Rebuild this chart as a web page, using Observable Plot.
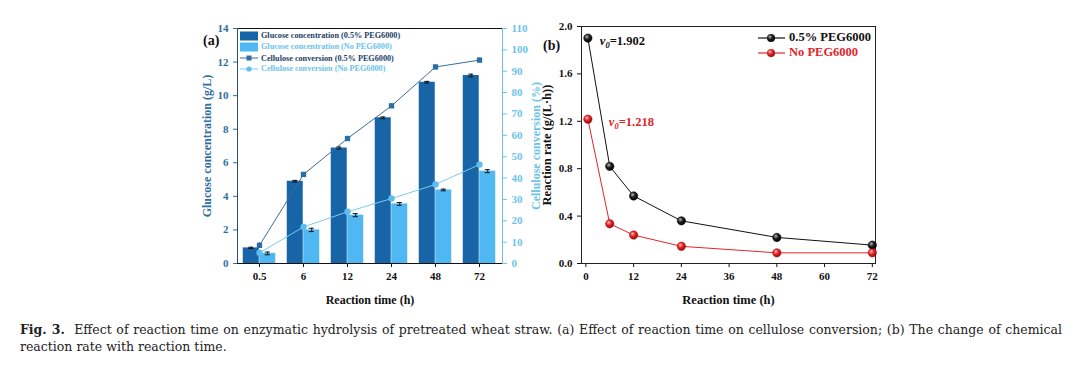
<!DOCTYPE html>
<html><head><meta charset="utf-8">
<script src="https://cdn.jsdelivr.net/npm/d3@7"></script>
<script src="https://cdn.jsdelivr.net/npm/@observablehq/plot@0.6"></script>
<style>
html,body{margin:0;padding:0;background:#fff;}
body{width:1080px;height:376px;overflow:hidden;position:relative;font-family:"Liberation Serif",serif;}
#wrap{position:absolute;left:0;top:0;width:1080px;height:376px;}
.leg{position:absolute;font-family:"Liberation Serif",serif;font-weight:bold;white-space:nowrap;display:flex;align-items:center;}
.leg svg{margin-right:2px;}
.cap{position:absolute;left:20px;width:1042px;font-family:"DejaVu Serif",serif;font-size:12.5px;color:#222;line-height:17px;white-space:nowrap;}
svg text{font-family:"Liberation Serif","Times New Roman",serif;}
</style></head><body>
<svg width="0" height="0" style="position:absolute">
<defs>
<radialGradient id="ballK" cx="38%" cy="35%" r="65%"><stop offset="0" stop-color="#bbb"/><stop offset="0.45" stop-color="#222"/><stop offset="1" stop-color="#000"/></radialGradient>
<radialGradient id="ballR" cx="38%" cy="35%" r="65%"><stop offset="0" stop-color="#ffc4c4"/><stop offset="0.45" stop-color="#e8282c"/><stop offset="1" stop-color="#9a0a0a"/></radialGradient>
</defs></svg>
<div id="wrap"></div>
<script>
// ---------- data ----------
const times = ["0.5", "6", "12", "24", "48", "72"];
const glucosePEG = [0.93, 4.9, 6.88, 8.68, 10.8, 11.2];
const glucosePEGErr = [0.04, 0.05, 0.06, 0.05, 0.05, 0.08];
const glucoseNo = [0.6, 2.0, 2.88, 3.55, 4.38, 5.5];
const glucoseNoErr = [0.08, 0.1, 0.09, 0.08, 0.05, 0.09];
const convPEG = [8.5, 41.7, 58.5, 73.8, 92.0, 95.2];
const convPEGErr = [1.2, 0.8, 1.0, 0.9, 1.0, 1.0];
const convNo = [5.0, 17.1, 24.2, 30.4, 37.0, 46.3];
const rateHours = [0.5, 6, 12, 24, 48, 72];
const ratePEG = [1.902, 0.82, 0.57, 0.36, 0.22, 0.155];
const rateNo = [1.218, 0.335, 0.24, 0.145, 0.09, 0.09];
const leftTicks = [0, 2, 4, 6, 8, 10, 12, 14];
const rightTicks = [0, 10, 20, 30, 40, 50, 60, 70, 80, 90, 100, 110];
const rateYTicks = [0, 0.4, 0.8, 1.2, 1.6, 2.0];
const rateXTicks = [0, 12, 24, 36, 48, 60, 72];

// ---------- styles ----------
const DARK = "#1765a6", LIGHT = "#4fb7f1";
const DARKLINE = "#3d6f97", LIGHTLINE = "#7ccaf0";
const LEFTTXT = "#2f6e9f", RIGHTTXT = "#6dc3ea";
const RED = "#e0262b";
const FAM = "'Liberation Serif', 'Times New Roman', serif";
const font = {fontFamily: FAM, fontWeight: "bold", fontSize: "11px", background: "transparent", overflow: "visible"};
const W = 360, H = 295;
const BW = 16.5;

const wrap = document.getElementById("wrap");
function place(el, left, top) { el.style.position = "absolute"; el.style.left = left + "px"; el.style.top = top + "px"; wrap.appendChild(el); }
function bigLabels(svg, size) {
  svg.querySelectorAll('g[aria-label$="axis label"]').forEach(g => { g.style.fontSize = size + "px"; g.querySelectorAll("text").forEach(t => t.style.fontSize = size + "px"); });
}

// ---------- panel (a) ----------
const gPEG = times.map((t, i) => ({t, v: glucosePEG[i], e: glucosePEGErr[i]}));
const gNo = times.map((t, i) => ({t, v: glucoseNo[i], e: glucoseNoErr[i]}));
const cPEG = times.map((t, i) => ({t, c: convPEG[i], e: convPEGErr[i]}));
const cNo = times.map((t, i) => ({t, c: convNo[i]}));
const mA = {marginLeft: 47, marginRight: 48, marginTop: 13, marginBottom: 47};
const xA = {type: "band", domain: times, paddingInner: 0.627, paddingOuter: 0.3135};

function errBars(data, dx) {
  return [
    Plot.ruleX(data, {x: "t", y1: d => d.v - d.e, y2: d => d.v + d.e, dx, stroke: "#111"}),
    Plot.tickY(data, {x: "t", y: d => d.v + d.e, dx, insetLeft: 5.5, insetRight: 5.5, stroke: "#111"}),
    Plot.tickY(data, {x: "t", y: d => d.v - d.e, dx, insetLeft: 5.5, insetRight: 5.5, stroke: "#111"})
  ];
}

const a1 = Plot.plot({
  width: W, height: H, ...mA, style: font,
  x: {...xA},
  y: {domain: [0, 14]},
  marks: [
    Plot.barY(gPEG, {x: "t", y: "v", fill: DARK, dx: -BW / 2}),
    Plot.barY(gNo, {x: "t", y: "v", fill: LIGHT, dx: BW / 2}),
    ...errBars(gPEG, -BW / 2),
    ...errBars(gNo, BW / 2),
    Plot.axisY({ticks: leftTicks, anchor: "left", color: LEFTTXT, tickSize: 4, label: "Glucose concentration (g/L)", labelAnchor: "center", labelArrow: "none", labelOffset: 35, fontFamily: FAM}),
    Plot.axisX({tickSize: 4, color: "#111", label: "Reaction time (h)", labelAnchor: "center", labelArrow: "none", labelOffset: 40, fontFamily: FAM}),
    Plot.frame({anchor: "top", stroke: "#111"}),
    Plot.frame({anchor: "left", stroke: "#2a4f70"}),
    Plot.frame({anchor: "bottom", stroke: "#111"})
  ]
});
bigLabels(a1, 12);
place(a1, 190, 15);

const a2 = Plot.plot({
  width: W, height: H, ...mA, style: font,
  x: {...xA, axis: null},
  y: {domain: [0, 110]},
  marks: [
    Plot.lineY(cPEG, {x: "t", y: "c", stroke: DARKLINE, strokeWidth: 1}),
    Plot.ruleX(cPEG, {x: "t", y1: d => d.c - d.e, y2: d => d.c + d.e, stroke: "#1d4f7a"}),
    Plot.dot(cPEG, {x: "t", y: "c", symbol: "square", fill: "#2c6ea3", r: 3}),
    Plot.lineY(cNo, {x: "t", y: "c", stroke: LIGHTLINE, strokeWidth: 1}),
    Plot.dot(cNo, {x: "t", y: "c", symbol: "circle", fill: "#5dbdee", r: 3.2}),
    Plot.axisY({ticks: rightTicks, anchor: "right", color: RIGHTTXT, tickSize: 4, label: "Cellulose conversion (%)", labelAnchor: "center", labelArrow: "none", labelOffset: 37, fontFamily: FAM}),
    Plot.frame({anchor: "right", stroke: RIGHTTXT})
  ]
});
bigLabels(a2, 12);
place(a2, 190, 15);

// ---------- panel (b) ----------
const rPEG = rateHours.map((h, i) => ({h, r: ratePEG[i]}));
const rNo = rateHours.map((h, i) => ({h, r: rateNo[i]}));
const noteK = [{h: rateHours[0], r: ratePEG[0], label: "v0=" + ratePEG[0].toFixed(3)}];
const noteR = [{h: rateHours[0], r: rateNo[0], label: "v0=" + rateNo[0].toFixed(3)}];
const b = Plot.plot({
  width: W, height: H, marginLeft: 51, marginRight: 15, marginTop: 11, marginBottom: 47, style: font,
  x: {domain: [-1.1, 72.8]},
  y: {domain: [0, 2.0]},
  marks: [
    Plot.frame({stroke: "#222"}),
    Plot.axisY({ticks: rateYTicks, tickFormat: d3.format(".1f"), tickSize: 4, color: "#111", label: "Reaction rate (g/(L·h))", labelAnchor: "center", labelArrow: "none", labelOffset: 39, fontFamily: FAM}),
    Plot.axisX({ticks: rateXTicks, tickSize: 4, color: "#111", label: "Reaction time (h)", labelAnchor: "center", labelArrow: "none", labelOffset: 40, fontFamily: FAM}),
    Plot.line(rPEG, {x: "h", y: "r", stroke: "#111", strokeWidth: 1}),
    Plot.line(rNo, {x: "h", y: "r", stroke: RED, strokeWidth: 1}),
    Plot.dot(rPEG, {x: "h", y: "r", r: 4.2, fill: "url(#ballK)", stroke: "#000", strokeWidth: 0.5}),
    Plot.dot(rNo, {x: "h", y: "r", r: 4.2, fill: "url(#ballR)", stroke: "#a00", strokeWidth: 0.5}),
    Plot.text(noteK, {x: "h", y: "r", text: "label", fill: "#111", dx: 12, dy: 3, textAnchor: "start", fontSize: 12.5, fontWeight: "bold", fontFamily: FAM}),
    Plot.text(noteR, {x: "h", y: "r", text: "label", fill: RED, dx: 21, dy: 3, textAnchor: "start", fontSize: 12.5, fontWeight: "bold", fontFamily: FAM})
  ]
});
bigLabels(b, 12.5);
place(b, 530, 15);
b.querySelectorAll("text").forEach(t => {
  const s = t.textContent;
  if (s.startsWith("v0=")) {
    const rest = s.slice(2);
    while (t.firstChild) t.removeChild(t.firstChild);
    const ns = "http://www.w3.org/2000/svg";
    const t1 = document.createElementNS(ns, "tspan"); t1.setAttribute("font-style", "italic"); t1.textContent = "v";
    const t2 = document.createElementNS(ns, "tspan"); t2.setAttribute("font-style", "italic"); t2.setAttribute("font-size", "8.5"); t2.setAttribute("dy", "3"); t2.textContent = "0";
    const t3 = document.createElementNS(ns, "tspan"); t3.setAttribute("dy", "-3"); t3.textContent = rest;
    t.append(t1, t2, t3);
  }
});

// ---------- panel labels ----------
function lab(txt, left, top, size) {
  const d = document.createElement("div");
  d.textContent = txt;
  d.style.cssText = `font-family:"Liberation Serif",serif;font-weight:bold;font-size:${size}px;color:#111;white-space:nowrap;`;
  place(d, left, top);
}
lab("(a)", 203, 33, 14);
lab("(b)", 543, 38, 14);

// ---------- legends ----------
function legRow(left, top, swatch, txt, color, size) {
  const d = document.createElement("div");
  d.className = "leg";
  d.style.fontSize = size + "px";
  d.style.color = color;
  d.innerHTML = swatch + "<span>" + txt + "</span>";
  place(d, left, top);
}
const rectSw = c => `<svg width="19" height="10"><rect x="0" y="0.5" width="18" height="9" fill="${c}"/></svg>`;
const lineSw = (c, mk, shape) => `<svg width="19" height="10"><line x1="0" x2="18" y1="5" y2="5" stroke="${c}" stroke-width="1"/>` +
  (shape === "sq" ? `<rect x="6.5" y="2.5" width="5" height="5" fill="${mk}"/>` : `<circle cx="9" cy="5" r="2.6" fill="${mk}"/>`) + `</svg>`;
legRow(240, 30.5, rectSw(DARK), "Glucose concentration (0.5% PEG6000)", "#1d3f66", 8.2);
legRow(240, 41.5, rectSw(LIGHT), "Glucose concentration (No PEG6000)", "#6cc3ea", 8.2);
legRow(240, 53, lineSw(DARKLINE, "#2c6ea3", "sq"), "Cellulose conversion (0.5% PEG6000)", "#1d3f66", 8.2);
legRow(240, 63.5, lineSw(LIGHTLINE, "#5dbdee", "c"), "Cellulose conversion (No PEG6000)", "#6cc3ea", 8.2);

const ballSw = (c, g) => `<svg width="30" height="12"><line x1="1" x2="28" y1="6" y2="6" stroke="${c}" stroke-width="1.2"/><circle cx="14" cy="6" r="4" fill="url(#${g})"/></svg>`;
legRow(757, 30, ballSw("#111", "ballK"), "0.5% PEG6000", "#111", 12.5);
legRow(757, 45, ballSw(RED, "ballR"), "No PEG6000", RED, 12.5);

// ---------- caption ----------
const cap1 = document.createElement("div");
cap1.className = "cap";
cap1.style.top = "321px";
cap1.style.textAlign = "justify";
cap1.style.textAlignLast = "justify";
cap1.innerHTML = "<b>Fig. 3.</b>&nbsp; Effect of reaction time on enzymatic hydrolysis of pretreated wheat straw. (a) Effect of reaction time on cellulose conversion; (b) The change of chemical";
wrap.appendChild(cap1);
const cap2 = document.createElement("div");
cap2.className = "cap";
cap2.style.top = "338px";
cap2.textContent = "reaction rate with reaction time.";
wrap.appendChild(cap2);
</script>
</body></html>
